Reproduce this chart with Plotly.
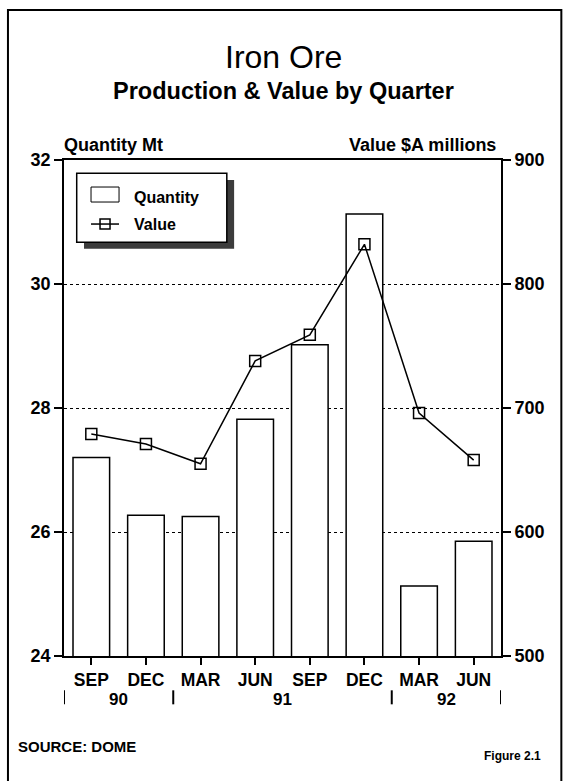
import plotly.graph_objects as go

# Data
quarters = ["SEP", "DEC", "MAR", "JUN", "SEP", "DEC", "MAR", "JUN"]
years = ["90", "91", "92"]
year_centres = [0.5, 3.5, 6.5]
year_breaks = [-0.5, 1.5, 5.5, 7.5]
quantity = [27.2, 26.27, 26.25, 27.82, 29.02, 31.13, 25.13, 25.85]  # Mt
value = [679, 671, 655, 738, 759, 832, 696, 658]  # $A millions

xpos = list(range(len(quarters)))

FONT = "Liberation Sans, Arial, Helvetica, sans-serif"

# plot area in page pixels
W, H = 563, 781
L, R, T, B = 64, 500.7, 160, 655.7


def fx(p):
    return (p - L) / (R - L)


def fy(p):
    return (B - p) / (B - T)


fig = go.Figure()

fig.add_trace(go.Bar(
    x=xpos, y=quantity, width=0.67, name="Quantity",
    marker=dict(color="white", line=dict(color="black", width=1.5)),
    showlegend=False
))

fig.add_trace(go.Scatter(
    x=xpos, y=value, yaxis="y2", mode="lines+markers", name="Value",
    line=dict(color="black", width=1.5),
    marker=dict(symbol="square-open", size=11, color="black", line=dict(width=1.5)),
    showlegend=False
))

shapes = [
    # outer frame
    dict(type="rect", xref="paper", yref="paper", x0=fx(8), x1=fx(561), y0=fy(800), y1=fy(10),
         line=dict(color="black", width=2)),
    # legend shadow + box
    dict(type="rect", xref="paper", yref="paper", x0=fx(84), x1=fx(234), y0=fy(248.7), y1=fy(180),
         fillcolor="#3c3c3c", line=dict(width=0)),
    dict(type="rect", xref="paper", yref="paper", x0=fx(76.7), x1=fx(226.7), y0=fy(242.3), y1=fy(173.3),
         fillcolor="white", line=dict(color="black", width=1.5)),
    dict(type="rect", xref="paper", yref="paper", x0=fx(91), x1=fx(119), y0=fy(202), y1=fy(187),
         fillcolor="white", line=dict(color="black", width=1)),
    dict(type="line", xref="paper", yref="paper", x0=fx(91), x1=fx(119), y0=fy(224), y1=fy(224),
         line=dict(color="black", width=1.5)),
    dict(type="rect", xref="paper", yref="paper", x0=fx(100), x1=fx(110), y0=fy(229), y1=fy(219),
         line=dict(color="black", width=1.5)),
]

# year separators under the quarter labels
for xb in year_breaks:
    shapes.append(dict(type="line", xref="x", yref="paper", x0=xb, x1=xb, y0=fy(690), y1=fy(704),
                       line=dict(color="black", width=2)))

annotations = [
    dict(text="Iron Ore", x=fx(283), y=fy(57), font=dict(size=32, family=FONT)),
    dict(text="Production & Value by Quarter", x=fx(283), y=fy(91),
         font=dict(size=23.5, family=FONT, weight="bold")),
    dict(text="Quantity Mt", x=fx(62), y=fy(145), xanchor="left",
         font=dict(size=18, family=FONT, weight="bold")),
    dict(text="Value $A millions", x=fx(498), y=fy(145), xanchor="right",
         font=dict(size=18, family=FONT, weight="bold")),
    dict(text="Quantity", x=fx(132), y=fy(197), xanchor="left",
         font=dict(size=16, family=FONT, weight="bold")),
    dict(text="Value", x=fx(132), y=fy(224), xanchor="left",
         font=dict(size=16, family=FONT, weight="bold")),
    dict(text="SOURCE: DOME", x=fx(16), y=fy(746), xanchor="left",
         font=dict(size=15, family=FONT, weight="bold")),
    dict(text="Figure 2.1", x=fx(543), y=fy(756), xanchor="right",
         font=dict(size=12, family=FONT, weight="bold")),
]
for a in annotations:
    a.setdefault("xanchor", "center")
    a.update(xref="paper", yref="paper", yanchor="middle", showarrow=False)

for yr, xc in zip(years, year_centres):
    annotations.append(dict(text=yr, x=xc, y=fy(699), xref="x", yref="paper", showarrow=False,
                            yanchor="middle", font=dict(size=17, family=FONT, weight="bold")))

fig.update_layout(
    width=W, height=H,
    margin=dict(l=L, r=W - R, t=T, b=H - B, pad=0),
    paper_bgcolor="white", plot_bgcolor="white",
    font=dict(family=FONT, color="black"),
    shapes=shapes,
    annotations=annotations,
    xaxis=dict(
        range=[-0.5, 7.5], tickvals=xpos, ticktext=quarters,
        ticks="outside", ticklen=7, tickwidth=1.5, tickcolor="black",
        tickfont=dict(size=17.5, family=FONT, weight="bold"),
        showline=True, linecolor="black", linewidth=1.5, mirror=True,
        showgrid=False, zeroline=False
    ),
    yaxis=dict(
        range=[24, 32], dtick=2,
        ticks="outside", ticklen=8, tickwidth=1.5, tickcolor="black",
        tickfont=dict(size=18, family=FONT, weight="bold"),
        showline=True, linecolor="black", linewidth=1.5,
        showgrid=True, gridcolor="black", gridwidth=1, griddash="dot",
        zeroline=False
    ),
    yaxis2=dict(
        range=[500, 900], dtick=100, overlaying="y", side="right",
        ticks="outside", ticklen=8, tickwidth=1.5, tickcolor="black",
        tickfont=dict(size=18, family=FONT, weight="bold"),
        showline=True, linecolor="black", linewidth=2,
        showgrid=False, zeroline=False
    ),
)

fig.write_html("out.html", config={"displayModeBar": False},
               post_script="document.body.style.margin='0';")
